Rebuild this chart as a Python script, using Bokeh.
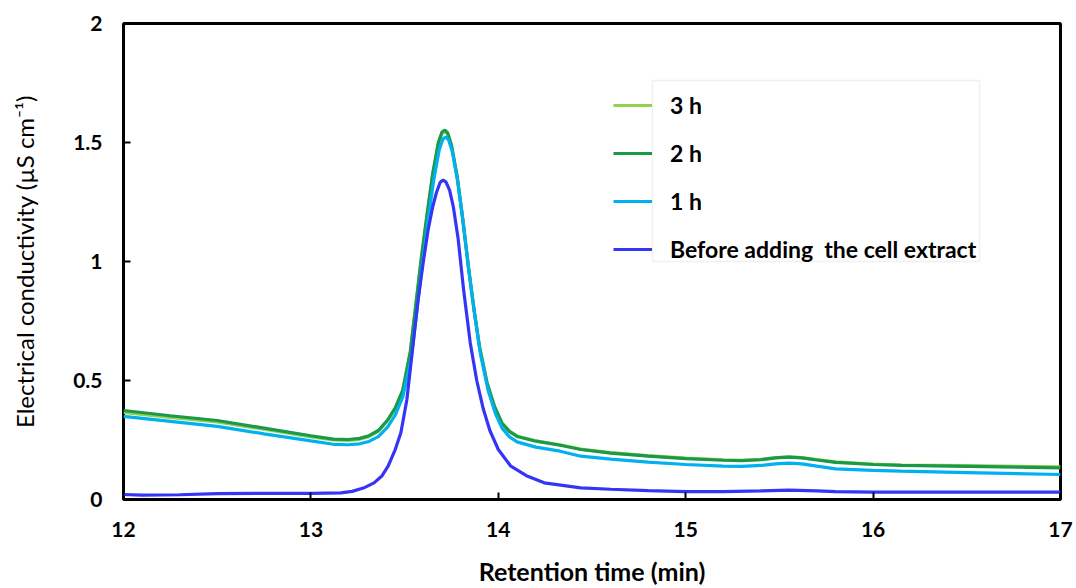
from bokeh.plotting import figure
from bokeh.models import Range1d, FixedTicker, Legend, LegendItem, BoxAnnotation
from bokeh.embed import file_html
from bokeh.resources import INLINE

# ---- data ----
t_2h = [12.0, 12.25, 12.5, 12.75, 13.0, 13.12, 13.2, 13.26, 13.31, 13.36, 13.41, 13.45, 13.49, 13.53,
        13.56, 13.59, 13.62, 13.65, 13.68, 13.70, 13.715, 13.73, 13.75, 13.78, 13.81, 13.84, 13.87, 13.90,
        13.94, 13.98, 14.02, 14.06, 14.1, 14.2, 14.33, 14.44, 14.6, 14.8, 15.0, 15.2, 15.3, 15.4, 15.48,
        15.55, 15.62, 15.7, 15.8, 16.0, 16.15, 16.5, 17.0]
v_2h = [0.374, 0.352, 0.332, 0.300, 0.268, 0.254, 0.252, 0.257, 0.268, 0.290, 0.335, 0.385, 0.460, 0.620,
        0.820, 1.020, 1.200, 1.370, 1.500, 1.545, 1.552, 1.540, 1.490, 1.360, 1.180, 0.980, 0.800, 0.640,
        0.490, 0.390, 0.320, 0.285, 0.265, 0.245, 0.228, 0.210, 0.195, 0.182, 0.172, 0.165, 0.163, 0.167, 0.175,
        0.178, 0.175, 0.166, 0.156, 0.147, 0.143, 0.139, 0.133]

t_3h = list(t_2h)
v_3h = [0.366, 0.345, 0.326, 0.295, 0.263, 0.250, 0.248, 0.253, 0.264, 0.286, 0.331, 0.381, 0.455, 0.615,
        0.815, 1.015, 1.195, 1.365, 1.495, 1.540, 1.546, 1.535, 1.485, 1.355, 1.178, 0.978, 0.800, 0.641,
        0.491, 0.391, 0.321, 0.287, 0.267, 0.247, 0.230, 0.212, 0.197, 0.184, 0.174, 0.167, 0.165, 0.169, 0.176,
        0.179, 0.176, 0.168, 0.158, 0.149, 0.145, 0.142, 0.137]

t_1h = [12.0, 12.25, 12.5, 12.75, 13.0, 13.12, 13.2, 13.26, 13.31, 13.36, 13.41, 13.45, 13.49, 13.535,
        13.565, 13.595, 13.625, 13.655, 13.685, 13.705, 13.72, 13.735, 13.755, 13.785, 13.815, 13.845, 13.875,
        13.905, 13.945, 13.985, 14.02, 14.06, 14.1, 14.2, 14.33, 14.44, 14.6, 14.8, 15.0, 15.2, 15.3, 15.4,
        15.48, 15.55, 15.62, 15.7, 15.8, 16.0, 16.15, 16.5, 17.0]
v_1h = [0.349, 0.328, 0.307, 0.276, 0.246, 0.232, 0.230, 0.234, 0.244, 0.264, 0.305, 0.355, 0.430, 0.590,
        0.790, 0.990, 1.170, 1.340, 1.470, 1.515, 1.523, 1.510, 1.460, 1.330, 1.150, 0.950, 0.770,
        0.610, 0.460, 0.360, 0.300, 0.263, 0.242, 0.220, 0.203, 0.182, 0.170, 0.157, 0.147, 0.140, 0.139, 0.143,
        0.150, 0.153, 0.150, 0.140, 0.129, 0.122, 0.119, 0.113, 0.105]

t_before = [12.0, 12.1, 12.3, 12.5, 13.0, 13.159, 13.22, 13.28, 13.337, 13.38, 13.412, 13.45, 13.48, 13.512,
            13.542, 13.572, 13.60, 13.625, 13.65, 13.67, 13.69, 13.705, 13.72, 13.74, 13.76, 13.785, 13.815,
            13.85, 13.885, 13.92, 13.955, 14.0, 14.067, 14.15, 14.245, 14.44, 14.6, 14.8, 15.0, 15.2, 15.4,
            15.55, 15.7, 15.8, 16.0, 17.0]
v_before = [0.021, 0.018, 0.020, 0.025, 0.026, 0.028, 0.034, 0.048, 0.070, 0.100, 0.140, 0.210, 0.280, 0.419,
            0.629, 0.839, 1.000, 1.130, 1.230, 1.290, 1.333, 1.342, 1.335, 1.300, 1.230, 1.100, 0.880,
            0.660, 0.500, 0.380, 0.290, 0.210, 0.140, 0.100, 0.070, 0.049, 0.043, 0.037, 0.033, 0.033, 0.036,
            0.039, 0.036, 0.033, 0.031, 0.031]

series_names = ["3 h", "2 h", "1 h", "Before adding  the cell extract"]
x_ticks = [12, 13, 14, 15, 16, 17]
x_tick_labels = ["12", "13", "14", "15", "16", "17"]
y_ticks = [0, 0.5, 1, 1.5, 2]
y_tick_labels = ["0", "0.5", "1", "1.5", "2"]

colors = ["#92D050", "#1A9A48", "#00B0F0", "#3535F5"]
FONT = "Lato"

p = figure(width=1076, height=588, output_backend="svg", toolbar_location=None,
           x_range=Range1d(12, 17), y_range=Range1d(0, 2),
           min_border_left=123, min_border_right=16, min_border_top=23, min_border_bottom=88)
p.xgrid.visible = False
p.ygrid.visible = False
p.outline_line_color = "black"
p.outline_line_width = 3
p.background_fill_color = "white"
p.border_fill_color = "white"

for ax in (p.xaxis[0], p.yaxis[0]):
    ax.axis_line_color = None
    ax.major_tick_in = 7
    ax.major_tick_out = 0
    ax.major_tick_line_color = "black"
    ax.major_tick_line_width = 2
    ax.minor_tick_line_color = None
    ax.major_label_text_font = FONT
    ax.major_label_text_font_style = "bold"
    ax.major_label_text_font_size = "21px"
    ax.major_label_text_color = "black"
    ax.axis_label_text_font = FONT
    ax.axis_label_text_color = "black"

p.xaxis.ticker = FixedTicker(ticks=x_ticks)
p.xaxis.major_label_overrides = dict(zip(x_ticks, x_tick_labels))
p.yaxis.ticker = FixedTicker(ticks=y_ticks)
p.yaxis.major_label_overrides = dict(zip(y_ticks, y_tick_labels))
p.xaxis.major_label_standoff = 22
p.yaxis.major_label_standoff = 21
p.xaxis.axis_label = "Retention time (min)"
p.xaxis.axis_label_text_font_style = "bold"
p.xaxis.axis_label_text_font_size = "25px"
p.xaxis.axis_label_standoff = 16
p.yaxis.axis_label = "Electrical conductivity (\u00b5S cm\u207b\u00b9)"
p.yaxis.axis_label_text_font_style = "normal"
p.yaxis.axis_label_text_font_size = "24px"
p.yaxis.axis_label_standoff = 31

r3 = p.line(t_3h, v_3h, line_color=colors[0], line_width=3.2)
r2 = p.line(t_2h, v_2h, line_color=colors[1], line_width=3.2)
r1 = p.line(t_1h, v_1h, line_color=colors[2], line_width=3.2)
r0 = p.line(t_before, v_before, line_color=colors[3], line_width=3.2)

# legend frame (light grey box around the labels)
box = BoxAnnotation(left=652, right=979, top=80, bottom=261,
                    left_units="canvas", right_units="canvas", top_units="canvas", bottom_units="canvas",
                    fill_color="white", fill_alpha=1.0, line_color="#D0D0D0", line_width=1.5, level="overlay")
p.add_layout(box)

legend = Legend(items=[LegendItem(label=series_names[0], renderers=[r3]),
                       LegendItem(label=series_names[1], renderers=[r2]),
                       LegendItem(label=series_names[2], renderers=[r1]),
                       LegendItem(label=series_names[3], renderers=[r0])],
                location=(490, 236), padding=0, margin=0, spacing=20,
                glyph_width=39, glyph_height=22, label_height=22, label_standoff=18,
                label_text_font=FONT, label_text_font_style="bold", label_text_font_size="23px",
                label_text_color="black", border_line_color=None, background_fill_alpha=0.0)
p.add_layout(legend)

open("out.html", "w").write(file_html(p, INLINE))
